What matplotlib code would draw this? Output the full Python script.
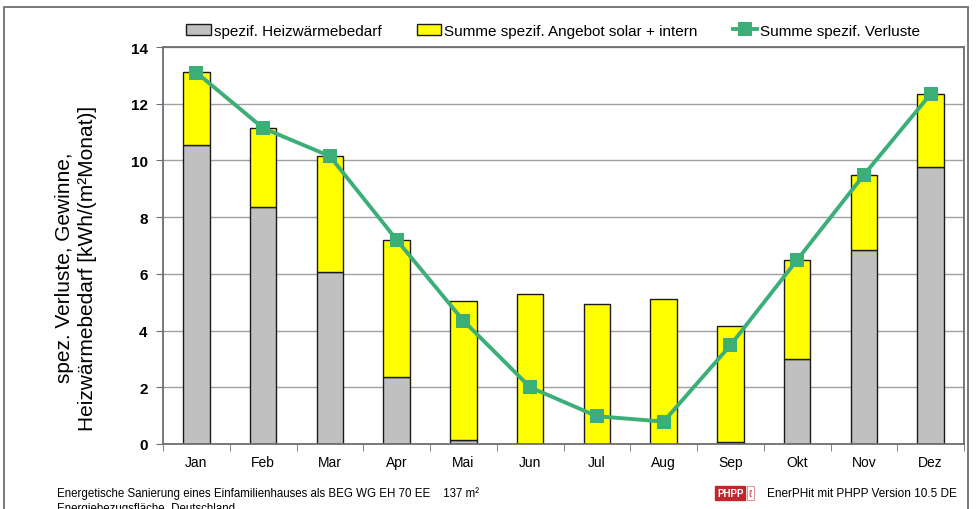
import matplotlib

matplotlib.use("Agg")
import matplotlib.pyplot as plt
import numpy as np
from matplotlib.patches import Rectangle

plt.rcParams["font.family"] = ["Liberation Sans", "DejaVu Sans"]

MONTHS = ["Jan", "Feb", "Mar", "Apr", "Mai", "Jun", "Jul", "Aug", "Sep", "Okt", "Nov", "Dez"]
HEIZWAERMEBEDARF = [10.55, 8.35, 6.08, 2.38, 0.14, 0.0, 0.0, 0.0, 0.07, 3.0, 6.84, 9.77]
ANGEBOT_TOTAL = [13.12, 11.14, 10.15, 7.2, 5.04, 5.28, 4.94, 5.11, 4.16, 6.49, 9.49, 12.34]
VERLUSTE = [13.1, 11.14, 10.15, 7.2, 4.35, 2.0, 0.98, 0.79, 3.48, 6.49, 9.49, 12.34]
Y_TICKS = [0, 2, 4, 6, 8, 10, 12, 14]

GRAY = "#c0c0c0"
YELLOW = "#ffff00"
GREEN = "#3caf78"
EDGE = "#1a1a1a"
FRAME = "#6e6e6e"

fig = plt.figure(figsize=(9.76, 5.1), dpi=100, facecolor="white")
ax = fig.add_axes([163 / 976, 1 - 445 / 510, (964 - 163) / 976, (445 - 48) / 510])

x = np.arange(len(MONTHS))
angebot = np.array(ANGEBOT_TOTAL) - np.array(HEIZWAERMEBEDARF)
b1 = ax.bar(x, HEIZWAERMEBEDARF, width=0.4, color=GRAY, edgecolor=EDGE, linewidth=1.0, zorder=2)
b2 = ax.bar(x, angebot, bottom=HEIZWAERMEBEDARF, width=0.4, color=YELLOW, edgecolor=EDGE, linewidth=1.0,
            zorder=2)
(l1,) = ax.plot(x, VERLUSTE, color=GREEN, linewidth=2.8, marker="s", markersize=10, markeredgewidth=0,
                zorder=3)

ax.set_xlim(-0.5, len(MONTHS) - 0.5)
ax.set_ylim(0, 14)
ax.set_yticks(Y_TICKS)
ax.set_yticklabels([str(t) for t in Y_TICKS], fontsize=11, fontweight="bold")
ax.set_xticks(x)
ax.set_xticklabels(MONTHS, fontsize=10)
ax.set_xticks(np.arange(-0.5, len(MONTHS)), minor=True)
ax.tick_params(axis="x", which="major", length=0, pad=8)
ax.tick_params(axis="x", which="minor", length=5, color=FRAME, direction="out")
ax.tick_params(axis="y", length=5, color=FRAME, direction="out", pad=6)
ax.grid(axis="y", color="#a0a0a0", linewidth=1.0, zorder=0)
for spine in ax.spines.values():
    spine.set_color(FRAME)
    spine.set_linewidth(1.3)

ax.set_ylabel("spez. Verluste, Gewinne,\nHeizwärmebedarf [kWh/(m²Monat)]", fontsize=15, linespacing=1.25)
ax.yaxis.set_label_coords(-0.083, 0.446)

ax.legend([b1, b2, l1],
          ["spezif. Heizwärmebedarf", "Summe spezif. Angebot solar + intern", "Summe spezif. Verluste"],
          loc="lower center", bbox_to_anchor=(0.487, 1.0), ncol=3, frameon=False, fontsize=11,
          handlelength=1.6, handleheight=0.8, columnspacing=2.3, handletextpad=0.2,
          borderaxespad=0.2)

# outer frame
fig.add_artist(Rectangle((4 / 976, -0.05), (968 - 4) / 976, 1 - 8 / 510 + 0.05, transform=fig.transFigure,
                         fill=False, edgecolor=FRAME, linewidth=1.3))

fig.text(57 / 976, 1 - 494 / 510, "Energetische Sanierung eines Einfamilienhauses als BEG WG EH 70 EE    137 m²",
         fontsize=8.3, va="center")
fig.text(57 / 976, 1 - 509 / 510, "Energiebezugsfläche, Deutschland", fontsize=8.3, va="center")
fig.text(717 / 976, 1 - 494 / 510, "PHPP", fontsize=7, fontweight="bold", color="white", va="center",
         bbox=dict(boxstyle="square,pad=0.2", facecolor="#c0272d", edgecolor="#c0272d"))
fig.text(749 / 976, 1 - 494 / 510, "ℓ", fontsize=7, color="#c0272d", va="center",
         bbox=dict(boxstyle="square,pad=0.2", facecolor="white", edgecolor="#e08080", linewidth=0.6))
fig.text(767 / 976, 1 - 494 / 510, "EnerPHit mit PHPP Version 10.5 DE", fontsize=8.5, va="center")

fig.savefig("out.png", dpi=100, facecolor="white")
